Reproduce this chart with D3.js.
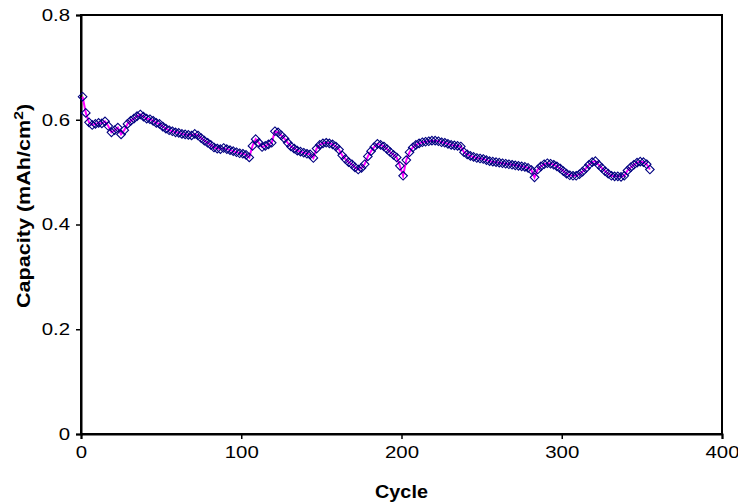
<!DOCTYPE html>
<html>
<head>
<meta charset="utf-8">
<script src="https://cdn.jsdelivr.net/npm/d3@7"></script>
<style>
  html, body { margin: 0; padding: 0; background: #ffffff; }
  svg { display: block; font-family: "Liberation Sans", Arial, sans-serif; }
  .tick text { font-size: 17px; fill: #000; }
  .axis-title { font-size: 18px; font-weight: bold; fill: #000; }
</style>
</head>
<body>
<svg id="chart" width="738" height="504"></svg>
<script>
// cycle numbers of the measured points
const cycles = [
  1, 3, 5, 7, 9, 11, 13, 15, 17, 19, 21, 23, 25, 27, 29, 31, 33, 35, 37, 39,
  41, 43, 45, 47, 49, 51, 53, 55, 57, 59, 61, 63, 65, 67, 69, 71, 73, 75, 77, 79,
  81, 83, 85, 87, 89, 91, 93, 95, 97, 99, 101, 103, 105, 107, 109, 111, 113, 115, 117, 119,
  121, 123, 125, 127, 129, 131, 133, 135, 137, 139, 141, 143, 145, 147, 149, 151, 153, 155, 157, 159,
  161, 163, 165, 167, 169, 171, 173, 175, 177, 179, 181, 183, 185, 187, 189, 191, 193, 195, 197, 199,
  201, 203, 205, 207, 209, 211, 213, 215, 217, 219, 221, 223, 225, 227, 229, 231, 233, 235, 237, 239,
  241, 243, 245, 247, 249, 251, 253, 255, 257, 259, 261, 263, 265, 267, 269, 271, 273, 275, 277, 279,
  281, 283, 285, 287, 289, 291, 293, 295, 297, 299, 301, 303, 305, 307, 309, 311, 313, 315, 317, 319,
  321, 323, 325, 327, 329, 331, 333, 335, 337, 339, 341, 343, 345, 347, 349, 351, 353, 355
];

// capacity in mAh/cm2
const capacity = [
  0.644, 0.613, 0.595, 0.590, 0.592, 0.594, 0.593, 0.597, 0.588, 0.576, 0.580, 0.585, 0.572, 0.580, 0.592, 0.598, 0.602, 0.607, 0.610, 0.606,
  0.602, 0.601, 0.598, 0.594, 0.592, 0.587, 0.583, 0.580, 0.578, 0.576, 0.575, 0.573, 0.572, 0.571, 0.570, 0.573, 0.570, 0.565, 0.560, 0.556,
  0.552, 0.547, 0.545, 0.544, 0.546, 0.544, 0.542, 0.540, 0.538, 0.536, 0.535, 0.533, 0.528, 0.550, 0.563, 0.556, 0.548, 0.550, 0.553, 0.556,
  0.578, 0.576, 0.570, 0.564, 0.556, 0.549, 0.545, 0.541, 0.539, 0.537, 0.535, 0.534, 0.527, 0.545, 0.552, 0.555, 0.556, 0.555, 0.553, 0.549,
  0.543, 0.532, 0.525, 0.519, 0.515, 0.509, 0.505, 0.508, 0.515, 0.530, 0.540, 0.548, 0.554, 0.552, 0.549, 0.544, 0.538, 0.533, 0.528, 0.512,
  0.493, 0.523, 0.538, 0.547, 0.552, 0.555, 0.557, 0.558, 0.559, 0.560, 0.560, 0.559, 0.557, 0.556, 0.554, 0.552, 0.551, 0.550, 0.549, 0.538,
  0.534, 0.531, 0.529, 0.527, 0.526, 0.525, 0.523, 0.521, 0.520, 0.519, 0.518, 0.517, 0.516, 0.515, 0.514, 0.513, 0.512, 0.511, 0.510, 0.508,
  0.504, 0.490, 0.505, 0.511, 0.515, 0.517, 0.516, 0.514, 0.511, 0.507, 0.502, 0.497, 0.494, 0.493, 0.493, 0.496, 0.501, 0.507, 0.514, 0.519,
  0.521, 0.514, 0.508, 0.502, 0.497, 0.493, 0.492, 0.492, 0.491, 0.493, 0.503, 0.509, 0.514, 0.518, 0.520, 0.519, 0.515, 0.505
];

const xTicks = [0, 100, 200, 300, 400];
const yTicks = [0, 0.2, 0.4, 0.6, 0.8];

const data = cycles.map((c, i) => ({ cycle: c, value: capacity[i] }));

const width = 738;
const height = 504;
const margin = { top: 15, right: 16, bottom: 70, left: 81 };
const plotWidth = width - margin.left - margin.right;
const plotHeight = height - margin.top - margin.bottom;

const svg = d3.select("#chart");

const x = d3.scaleLinear().domain([0, 400]).range([margin.left, margin.left + plotWidth]);
const y = d3.scaleLinear().domain([0, 0.8]).range([margin.top + plotHeight, margin.top]);

// the source picture is stretched sideways a little, so widen the glyphs
function widen(selection, factor) {
  selection.each(function () {
    const len = this.getComputedTextLength();
    d3.select(this).attr("textLength", len * factor).attr("lengthAdjust", "spacingAndGlyphs");
  });
}

// plot frame
svg
  .append("rect")
  .attr("x", margin.left)
  .attr("y", margin.top)
  .attr("width", plotWidth)
  .attr("height", plotHeight)
  .attr("fill", "none")
  .attr("stroke", "#000")
  .attr("stroke-width", 2);

svg
  .append("g")
  .attr("transform", `translate(0,${margin.top + plotHeight})`)
  .call(d3.axisBottom(x).tickValues(xTicks).tickSize(5).tickPadding(7).tickFormat(d3.format("d")))
  .call((g) => g.select(".domain").attr("stroke-width", 2))
  .call((g) => g.selectAll("line").attr("stroke-width", 1.5));

svg
  .append("g")
  .attr("transform", `translate(${margin.left},0)`)
  .call(d3.axisLeft(y).tickValues(yTicks).tickSize(5).tickPadding(6).tickFormat((d) => (d === 0 ? "0" : d.toFixed(1))))
  .call((g) => g.select(".domain").attr("stroke-width", 2))
  .call((g) => g.selectAll("line").attr("stroke-width", 1.5));

svg.selectAll(".tick text").call(widen, 1.2);

const line = d3
  .line()
  .x((d) => x(d.cycle))
  .y((d) => y(d.value));

svg
  .append("path")
  .datum(data)
  .attr("fill", "none")
  .attr("stroke", "#ff00ff")
  .attr("stroke-width", 2)
  .attr("d", line);

const diamond = "M0,-4.3L4.3,0L0,4.3L-4.3,0Z";

svg
  .append("g")
  .selectAll("path")
  .data(data)
  .join("path")
  .attr("d", diamond)
  .attr("transform", (d) => `translate(${x(d.cycle)},${y(d.value)})`)
  .attr("fill", "none")
  .attr("stroke", "#000080")
  .attr("stroke-width", 1.1);

// axis titles
svg
  .append("text")
  .attr("class", "axis-title")
  .attr("x", margin.left + plotWidth / 2)
  .attr("y", 498)
  .attr("text-anchor", "middle")
  .text("Cycle")
  .call(widen, 1.1);

const yTitle = svg
  .append("text")
  .attr("class", "axis-title")
  .attr("text-anchor", "middle")
  .attr("font-size", 20)
  .attr("transform", `translate(30,206) rotate(-90) scale(1.2,1)`);
yTitle.append("tspan").text("Capacity (mAh/cm");
yTitle.append("tspan").attr("dy", -7).attr("font-size", 13).text("2");
yTitle.append("tspan").attr("dy", 7).text(")");
</script>
</body>
</html>
